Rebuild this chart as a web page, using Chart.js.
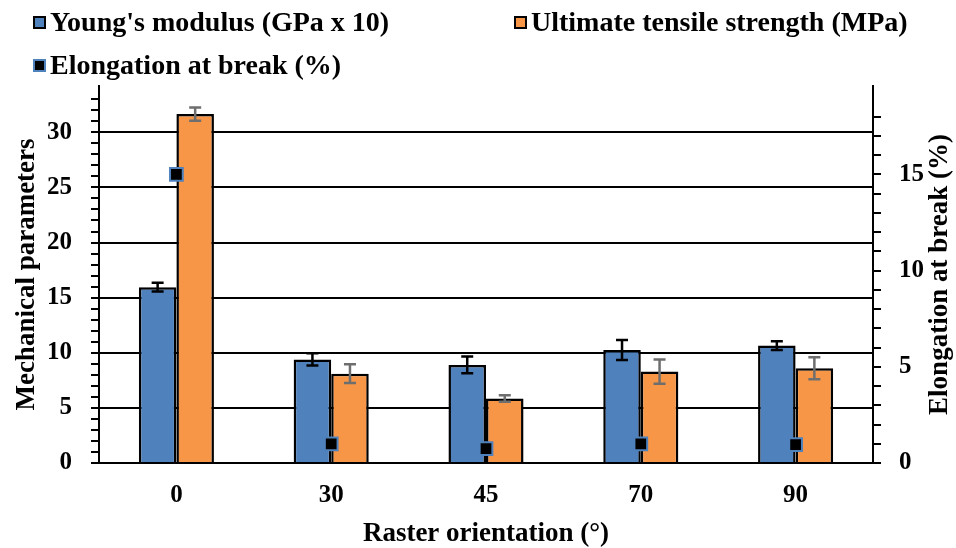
<!DOCTYPE html>
<html>
<head>
<meta charset="utf-8">
<script src="https://cdn.jsdelivr.net/npm/chart.js@4"></script>
<style>
  body { margin: 0; background: #fff; }
  #wrap { position: relative; width: 956px; height: 548px; }
  .item { position: absolute; display: flex; align-items: center; height: 30px;
          font: bold 28px "Liberation Serif", serif; color: #000; white-space: nowrap; }
  .box { width: 9px; height: 9px; border: 2px solid #000; margin-right: 4px; }
</style>
</head>
<body>
<div id="wrap">
  <canvas id="myChart"></canvas>
  <div class="item" style="left:33px; top:7px;"><span class="box" style="background:#4F81BD"></span>Young's modulus (GPa x 10)</div>
  <div class="item" style="left:514px; top:7px;"><span class="box" style="background:#F79646"></span>Ultimate tensile strength (MPa)</div>
  <div class="item" style="left:33px; top:50px;"><span class="box" style="background:#000; border-color:#4F81BD"></span>Elongation at break (%)</div>
</div>
<script>
// valores
var categories = ['0', '30', '45', '70', '90'];
var youngs = [15.95, 9.4, 8.9, 10.25, 10.65];
var youngsErr = [0.4, 0.55, 0.75, 0.9, 0.4];
var uts = [31.65, 8.1, 5.85, 8.3, 8.6];
var utsErr = [0.6, 0.85, 0.3, 1.1, 1.0];
var elongation = [15.0, 1.0, 0.75, 1.0, 0.95];

var fontFam = '"Liberation Serif", serif';

// barras de error
var errorBars = {
  id: 'errorBars',
  afterDatasetsDraw: function (chart) {
    var ctx = chart.ctx;
    var y = chart.scales.y;
    chart.data.datasets.forEach(function (ds, i) {
      if (!ds.errors) return;
      var meta = chart.getDatasetMeta(i);
      meta.data.forEach(function (bar, j) {
        var top = y.getPixelForValue(ds.data[j] + ds.errors[j]);
        var bot = y.getPixelForValue(ds.data[j] - ds.errors[j]);
        ctx.save();
        ctx.strokeStyle = ds.errorColor;
        ctx.lineWidth = 2.5;
        ctx.beginPath();
        ctx.moveTo(bar.x, top); ctx.lineTo(bar.x, bot);
        ctx.moveTo(bar.x - 6, top); ctx.lineTo(bar.x + 6, top);
        ctx.moveTo(bar.x - 6, bot); ctx.lineTo(bar.x + 6, bot);
        ctx.stroke();
        ctx.restore();
      });
    });
  }
};

// titulo del eje derecho, leido de abajo hacia arriba
var rightTitle = {
  id: 'rightTitle',
  afterDraw: function (chart) {
    var ctx = chart.ctx;
    var a = chart.chartArea;
    ctx.save();
    ctx.translate(940, (a.top + a.bottom) / 2);
    ctx.rotate(-Math.PI / 2);
    ctx.font = 'bold 27px ' + fontFam;
    ctx.fillStyle = '#000';
    ctx.textAlign = 'center';
    ctx.textBaseline = 'middle';
    ctx.fillText('Elongation at break (%)', 0, 0);
    ctx.restore();
  }
};

var ctx = document.getElementById('myChart').getContext('2d');
var myChart = new Chart(ctx, {
  type: 'bar',
  data: {
    labels: categories,
    datasets: [{
      label: "Young's modulus (GPa x 10)",
      data: youngs,
      errors: youngsErr,
      errorColor: '#000',
      backgroundColor: '#4F81BD',
      borderColor: '#000',
      borderWidth: 2.5,
      yAxisID: 'y',
      order: 1
    }, {
      label: 'Ultimate tensile strength (MPa)',
      data: uts,
      errors: utsErr,
      errorColor: '#6e6e6e',
      backgroundColor: '#F79646',
      borderColor: '#000',
      borderWidth: 2.5,
      yAxisID: 'y',
      order: 1
    }, {
      type: 'line',
      label: 'Elongation at break (%)',
      data: elongation,
      showLine: false,
      pointStyle: 'rect',
      pointRadius: 9,
      pointBackgroundColor: '#000',
      pointBorderColor: '#4F81BD',
      pointBorderWidth: 2,
      yAxisID: 'y1',
      order: 0
    }]
  },
  options: {
    responsive: true,
    maintainAspectRatio: false,
    animation: false,
    layout: { padding: { top: 86, left: 0, right: 0, bottom: 0 } },
    plugins: { legend: { display: false }, tooltip: { enabled: false } },
    datasets: { bar: { categoryPercentage: 0.485, barPercentage: 1 } },
    scales: {
      x: {
        grid: { display: false, drawTicks: false },
        border: { display: true, color: '#000', width: 2 },
        ticks: { color: '#000', padding: 18, font: { family: fontFam, size: 25, weight: 'bold' } },
        title: { display: true, text: 'Raster orientation (°)', color: '#000', padding: 0,
                 font: { family: fontFam, size: 27, weight: 'bold', lineHeight: 1 } },
        afterFit: function (s) { s.height = 85; }
      },
      y: {
        position: 'left',
        min: 0,
        max: 34.2,
        grid: {
          lineWidth: 2,
          tickLength: 8,
          color: function (c) { return (c.tick && c.tick.value % 5 === 0 && c.tick.value > 0) ? '#000' : 'rgba(0,0,0,0)'; },
          tickColor: function (c) { return (c.tick && Number.isInteger(c.tick.value)) ? '#000' : 'rgba(0,0,0,0)'; }
        },
        border: { display: true, color: '#000', width: 2 },
        ticks: {
          stepSize: 1, autoSkip: false, color: '#000', padding: 19,
          font: { family: fontFam, size: 25, weight: 'bold' },
          callback: function (v) { return v % 5 === 0 ? v : ''; }
        },
        title: { display: true, text: 'Mechanical parameters', color: '#000', padding: { top: 14, bottom: 0 },
                 font: { family: fontFam, size: 27, weight: 'bold', lineHeight: 1 } },
        afterFit: function (s) { s.width = 99; }
      },
      y1: {
        position: 'right',
        min: 0,
        max: 19.6,
        grid: {
          drawOnChartArea: false,
          lineWidth: 2,
          tickLength: 8,
          tickColor: function (c) { return (c.tick && Number.isInteger(c.tick.value)) ? '#000' : 'rgba(0,0,0,0)'; }
        },
        border: { display: true, color: '#000', width: 2 },
        ticks: {
          stepSize: 1, autoSkip: false, color: '#000', padding: 18,
          font: { family: fontFam, size: 25, weight: 'bold' },
          callback: function (v) { return v % 5 === 0 ? v : ''; }
        },
        title: { display: false },
        afterFit: function (s) { s.width = 83; }
      }
    }
  },
  plugins: [errorBars, rightTitle]
});
</script>
</body>
</html>
